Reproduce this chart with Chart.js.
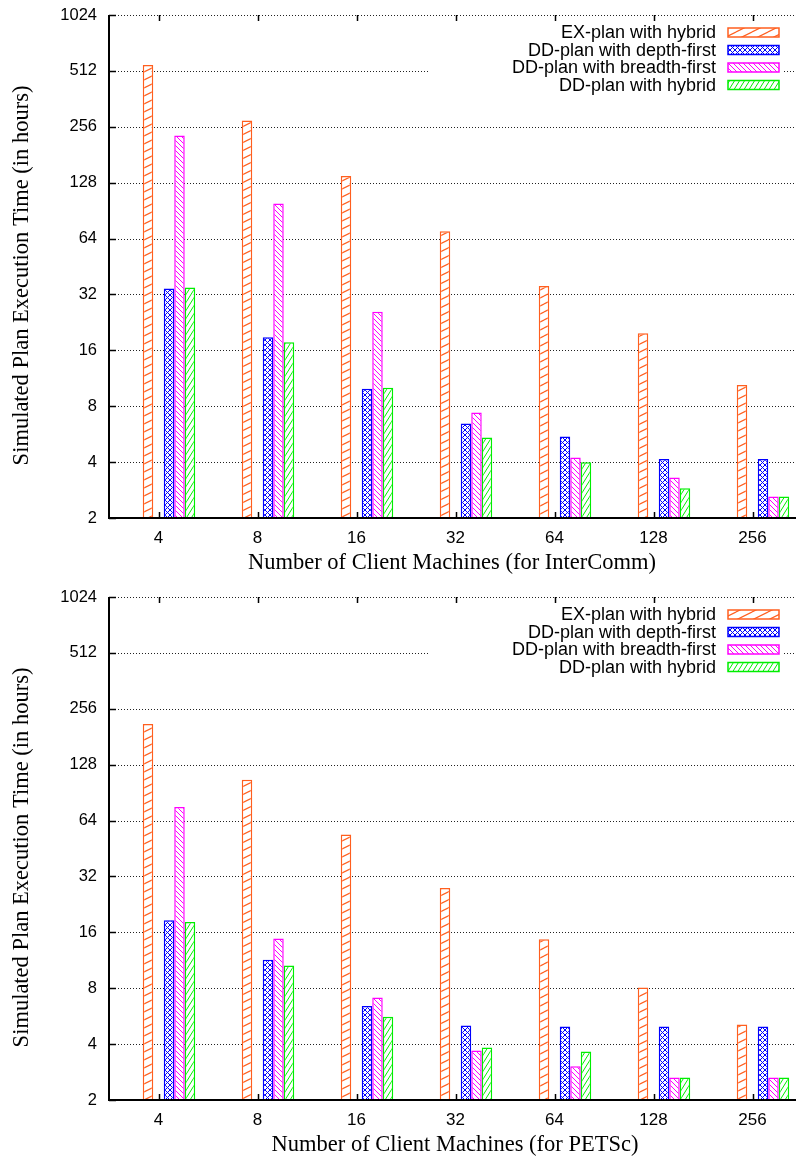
<!DOCTYPE html>
<html><head><meta charset="utf-8">
<script src="https://cdn.jsdelivr.net/npm/chart.js@4.4.0/dist/chart.umd.min.js"></script>
<style>html,body{margin:0;padding:0;background:#fff;overflow:hidden;width:796px;height:1161px}canvas{display:block}</style>
</head><body>
<canvas id="c1" width="804" height="580"></canvas>
<canvas id="c2" width="804" height="581"></canvas>
<script>
const categories = ['4','8','16','32','64','128','256'];
const yTicks = [2,4,8,16,32,64,128,256,512,1024];
const seriesNames = ['EX-plan with hybrid','DD-plan with depth-first','DD-plan with breadth-first','DD-plan with hybrid'];
const interExHybrid   = [550, 277, 139, 70, 35.5, 19.8, 10.4];
const interDDDepth    = [34.5, 18.8, 9.95, 6.45, 5.49, 4.16, 4.16];
const interDDBreadth  = [230, 99, 25.8, 7.39, 4.23, 3.31, 2.61];
const interDDHybrid   = [34.9, 17.7, 10.05, 5.42, 3.99, 2.89, 2.61];
const petscExHybrid   = [212, 106, 53.9, 27.7, 14.7, 8.08, 5.1];
const petscDDDepth    = [18.6, 11.4, 6.41, 5.04, 4.98, 4.98, 4.98];
const petscDDBreadth  = [75.6, 14.8, 7.14, 3.69, 3.04, 2.64, 2.64];
const petscDDHybrid   = [18.2, 10.6, 5.62, 3.83, 3.65, 2.64, 2.64];

const COLORS = ['#ff5f1f', '#0000ff', '#ff00ff', '#00ee00'];
const SANS = '"Liberation Sans", Arial, Helvetica, sans-serif';
const SERIF = '"Liberation Serif", "Times New Roman", serif';

function makePattern(color, kind) {
  let w, h;
  if (kind === 'orange') { w = 16; h = 8; }
  else if (kind === 'cross') { w = 5; h = 5; }
  else if (kind === 'back') { w = 5; h = 5; }
  else { w = 5; h = 8; }
  const c = document.createElement('canvas');
  c.width = w; c.height = h;
  const x = c.getContext('2d');
  x.fillStyle = '#fff'; x.fillRect(0, 0, w, h);
  x.strokeStyle = color; x.lineWidth = kind === 'orange' ? 1.2 : 1;
  for (let dx = -w; dx <= w; dx += w) for (let dy = -h; dy <= h; dy += h) {
    x.beginPath();
    if (kind === 'orange' || kind === 'fwd' || kind === 'cross') { x.moveTo(dx, h + dy); x.lineTo(w + dx, dy); }
    if (kind === 'back' || kind === 'cross') { x.moveTo(dx, dy); x.lineTo(w + dx, h + dy); }
    x.stroke();
  }
  return x.createPattern(c, 'repeat');
}

function buildChart(id, series, xTitle, topPad, xAxisH, xTitleCx) {
  const canvas = document.getElementById(id);
  const pats = [makePattern(COLORS[0], 'orange'), makePattern(COLORS[1], 'cross'), makePattern(COLORS[2], 'back'), makePattern(COLORS[3], 'fwd')];
  const spacer = () => ({ label: '', data: categories.map(() => null), backgroundColor: 'rgba(0,0,0,0)', borderWidth: 0 });
  const ds = (i) => ({ label: seriesNames[i], data: series[i], backgroundColor: pats[i], borderColor: COLORS[i], borderWidth: 1.5 });

  const deco = {
    id: 'deco',
    beforeDatasetsDraw(chart) {
      const ctx = chart.ctx, a = chart.chartArea, ys = chart.scales.y;
      ctx.save();
      ctx.strokeStyle = '#222'; ctx.lineWidth = 1; ctx.setLineDash([1, 2]);
      yTicks.forEach(v => {
        const py = Math.round(ys.getPixelForValue(v)) + 0.5;
        ctx.beginPath(); ctx.moveTo(a.left, py); ctx.lineTo(a.right, py); ctx.stroke();
      });
      ctx.restore();
    },
    afterDraw(chart) {
      const ctx = chart.ctx, a = chart.chartArea, xs = chart.scales.x, ys = chart.scales.y;
      ctx.save();
      // legend box
      ctx.fillStyle = '#fff';
      ctx.fillRect(430, a.top + 6, 353, 72);
      ctx.font = '18px ' + SANS;
      ctx.textAlign = 'right'; ctx.textBaseline = 'middle';
      for (let i = 0; i < 4; i++) {
        const ry = a.top + 17.5 + i * 17.5;
        ctx.fillStyle = '#000';
        ctx.fillText(seriesNames[i], 716, ry + 1);
        ctx.fillStyle = pats[i];
        ctx.fillRect(728, ry - 4.5, 51, 9);
        ctx.strokeStyle = COLORS[i]; ctx.lineWidth = 1.5;
        ctx.strokeRect(728, ry - 4.5, 51, 9);
      }
      // axes
      ctx.strokeStyle = '#000'; ctx.lineWidth = 2; ctx.setLineDash([]);
      ctx.beginPath();
      ctx.moveTo(a.left, a.top); ctx.lineTo(a.left, a.bottom); ctx.lineTo(a.right, a.bottom);
      ctx.stroke();
      ctx.lineWidth = 1.5;
      categories.forEach((c, i) => {
        const px = Math.round(xs.getPixelForTick(i)) + 0.5;
        ctx.beginPath();
        ctx.moveTo(px, a.bottom); ctx.lineTo(px, a.bottom - 6);
        ctx.moveTo(px, a.top); ctx.lineTo(px, a.top + 6);
        ctx.stroke();
      });
      yTicks.forEach(v => {
        const py = Math.round(ys.getPixelForValue(v)) + 0.5;
        ctx.beginPath(); ctx.moveTo(a.left, py); ctx.lineTo(a.left + 7, py); ctx.stroke();
      });
      // titles
      ctx.fillStyle = '#000';
      ctx.font = '22.5px ' + SERIF;
      ctx.textAlign = 'center'; ctx.textBaseline = 'middle';
      ctx.fillText(xTitle, xTitleCx, a.bottom + 45);
      ctx.save();
      ctx.translate(22, (a.top + a.bottom) / 2 + 9);
      ctx.rotate(-Math.PI / 2);
      ctx.fillText('Simulated Plan Execution Time (in hours)', 0, 0);
      ctx.restore();
      ctx.restore();
    }
  };

  return new Chart(canvas, {
    type: 'bar',
    data: { labels: categories, datasets: [spacer(), spacer(), ds(0), spacer(), ds(1), ds(2), ds(3)] },
    options: {
      responsive: false, animation: false, devicePixelRatio: 1,
      layout: { padding: { top: topPad, right: 2, left: 0, bottom: 0 } },
      plugins: { legend: { display: false }, tooltip: { enabled: false } },
      datasets: { bar: { categoryPercentage: 0.742, barPercentage: 1.0 } },
      scales: {
        x: {
          type: 'category', offset: true,
          grid: { display: false, drawTicks: false }, border: { display: false },
          ticks: { color: '#000', font: { family: SANS, size: 17 }, padding: 10, maxRotation: 0, autoSkip: false },
          afterFit(s) { s.height = xAxisH; s.paddingLeft = 0; s.paddingRight = 0; }
        },
        y: {
          type: 'logarithmic', min: 2, max: 1024,
          grid: { display: false, drawTicks: false }, border: { display: false },
          afterBuildTicks(s) { s.ticks = yTicks.map(v => ({ value: v })); },
          ticks: { color: '#000', font: { family: SANS, size: 16.5 }, padding: 12, callback: (v) => String(v) },
          afterFit(s) { s.width = 109; s.paddingTop = 0; s.paddingBottom = 0; }
        }
      }
    },
    plugins: [deco]
  });
}

buildChart('c1', [interExHybrid, interDDDepth, interDDBreadth, interDDHybrid], 'Number of Client Machines (for InterComm)', 15, 62, 452);
buildChart('c2', [petscExHybrid, petscDDDepth, petscDDBreadth, petscDDHybrid], 'Number of Client Machines (for PETSc)', 17, 61, 455);
</script>
</body></html>
